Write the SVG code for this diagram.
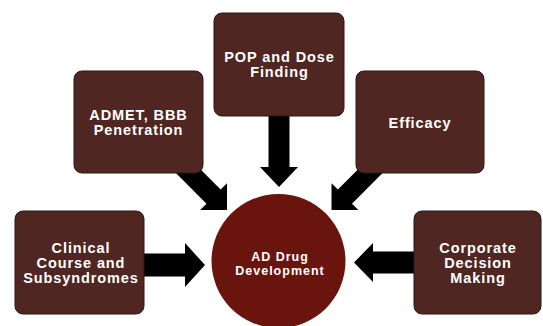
<svg xmlns="http://www.w3.org/2000/svg" width="543" height="326" viewBox="0 0 543 326">
  <defs>
    <style>
      .box { fill: #502622; stroke: #2e1512; stroke-width: 1; }
      .hub { fill: #6a140e; }
      .lbl { fill: #ffffff; font-family: "Liberation Sans", Arial, sans-serif; font-weight: bold; font-size: 14.5px; letter-spacing: 0.9px; text-anchor: middle; }
      .hubl { font-size: 12.5px; letter-spacing: 1px; }
      .arr { fill: #000000; }
    </style>
  </defs>
  <rect width="543" height="326" fill="#ffffff"/>
  <g id="connectors">
    <!-- ADMET -> hub -->
    <polygon class="arr" transform="translate(227,210) rotate(45)" points="-70,-10 -19,-10 -19,-19 0,0 -19,19 -19,10 -70,10"/>
    <!-- Efficacy -> hub -->
    <polygon class="arr" transform="translate(331.5,210) rotate(135)" points="-70,-10 -19,-10 -19,-19 0,0 -19,19 -19,10 -70,10"/>
    <!-- POP -> hub -->
    <polygon class="arr" transform="translate(279,187) rotate(90)" points="-80,-10.5 -20,-10.5 -20,-19 0,0 -20,19 -20,10.5 -80,10.5"/>
    <!-- Clinical -> hub -->
    <polygon class="arr" transform="translate(205,265) rotate(0)" points="-65,-11.5 -20,-11.5 -20,-22 0,0 -20,22 -20,11.5 -65,11.5"/>
    <!-- Corporate -> hub -->
    <polygon class="arr" transform="translate(354,262.5) rotate(180)" points="-66,-11 -19,-11 -19,-19.5 0,0 -19,19.5 -19,11 -66,11"/>
  </g>
  <g id="node-pop">
    <rect class="box" x="214" y="13" width="130" height="103" rx="8"/>
    <text class="lbl" x="279.5" y="62">POP and Dose</text>
    <text class="lbl" x="279.5" y="77">Finding</text>
  </g>
  <g id="node-admet">
    <rect class="box" x="74" y="71" width="129" height="102" rx="8"/>
    <text class="lbl" x="138.5" y="120">ADMET, BBB</text>
    <text class="lbl" x="138.5" y="134.5">Penetration</text>
  </g>
  <g id="node-efficacy">
    <rect class="box" x="356" y="71" width="128" height="102" rx="8"/>
    <text class="lbl" x="420" y="127.5">Efficacy</text>
  </g>
  <g id="node-clinical">
    <rect class="box" x="15" y="211" width="129" height="103" rx="8"/>
    <text class="lbl" x="81" y="252.5">Clinical</text>
    <text class="lbl" x="81" y="267.5">Course and</text>
    <text class="lbl" x="81" y="282.5">Subsyndromes</text>
  </g>
  <g id="node-corporate">
    <rect class="box" x="414" y="211" width="127" height="103" rx="8"/>
    <text class="lbl" x="478" y="252.5">Corporate</text>
    <text class="lbl" x="478" y="267.5">Decision</text>
    <text class="lbl" x="478" y="282.5">Making</text>
  </g>
  <g id="node-hub">
    <circle class="hub" cx="278.5" cy="261" r="67"/>
    <text class="lbl hubl" x="280" y="260.5">AD Drug</text>
    <text class="lbl hubl" x="280" y="274.5">Development</text>
  </g>
</svg>
